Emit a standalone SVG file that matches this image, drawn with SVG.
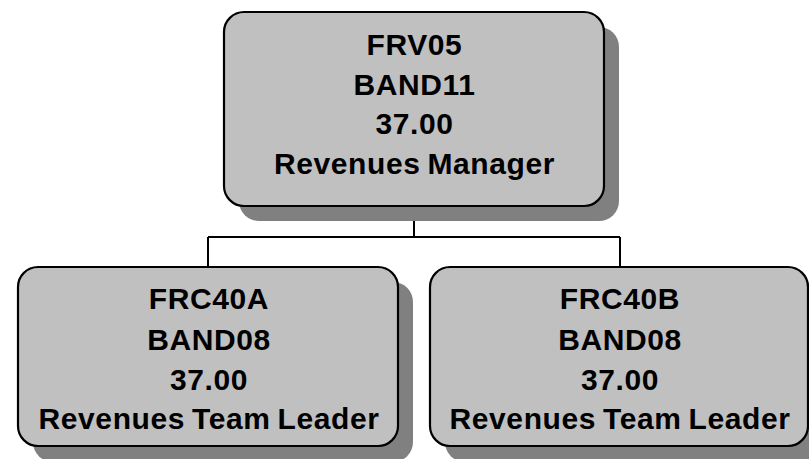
<svg xmlns="http://www.w3.org/2000/svg" width="809" height="459" viewBox="0 0 809 459">
<style>
.shadow{fill:#808080;stroke:none}
.box{fill:#C0C0C0;stroke:#000;stroke-width:2.2}
.conn{fill:none;stroke:#000;stroke-width:2}
text{font-family:"Liberation Sans",Arial,sans-serif;font-weight:bold;font-size:30px;fill:#000;text-anchor:middle;letter-spacing:0.6px;word-spacing:-2px}
</style>
<rect width="809" height="459" fill="#fff"/>
<g id="connectors">
<path class="conn" d="M414 206 V237 M208 237 H620 M208 237 V267 M620 237 V267"/>
</g>
<g id="node-frv05">
<rect class="shadow" x="239" y="27" width="380" height="194" rx="20"/>
<rect class="box" x="224" y="12" width="380" height="194" rx="20"/>
<text x="414.5" y="55">FRV05</text>
<text x="414.5" y="94.5">BAND11</text>
<text x="414.5" y="134">37.00</text>
<text x="414.5" y="173.5">Revenues Manager</text>
</g>
<g id="node-frc40a">
<rect class="shadow" x="33" y="282" width="380" height="180" rx="20"/>
<rect class="box" x="18" y="267" width="380" height="179" rx="20"/>
<text x="209" y="309">FRC40A</text>
<text x="209" y="349.5">BAND08</text>
<text x="209" y="390">37.00</text>
<text x="209" y="429">Revenues Team Leader</text>
</g>
<g id="node-frc40b">
<rect class="shadow" x="445" y="282" width="380" height="180" rx="20"/>
<rect class="box" x="430" y="267" width="378" height="179" rx="20"/>
<text x="620" y="309">FRC40B</text>
<text x="620" y="349.5">BAND08</text>
<text x="620" y="390">37.00</text>
<text x="620" y="429">Revenues Team Leader</text>
</g>
</svg>
